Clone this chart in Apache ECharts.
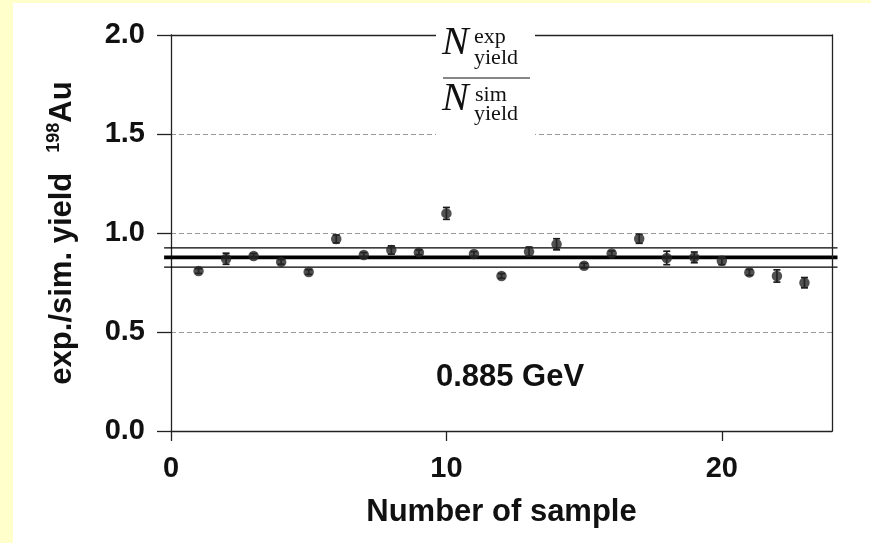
<!DOCTYPE html>
<html><head><meta charset="utf-8">
<script src="https://cdn.jsdelivr.net/npm/echarts@6/dist/echarts.min.js"></script>
<style>
html,body{margin:0;padding:0;background:#FFFFCC;width:871px;height:543px;overflow:hidden}
#c{position:absolute;left:13px;top:3px;width:858px;height:540px;background:#ffffff}
</style></head><body><div id="c"></div>
<script>
// ---- data ----
const samples = [1,2,3,4,5,6,7,8,9,10,11,12,13,14,15,16,17,18,19,20,21,22,23];
const ratio   = [0.808,0.870,0.884,0.854,0.803,0.970,0.889,0.914,0.902,1.099,0.894,0.783,0.906,0.943,0.835,0.897,0.971,0.874,0.877,0.860,0.801,0.783,0.749];
const errors  = [0.012,0.028,0.012,0.012,0.012,0.020,0.012,0.021,0.012,0.030,0.012,0.012,0.023,0.028,0.012,0.012,0.023,0.034,0.027,0.020,0.015,0.031,0.026];
const refLevels = [0.877, 0.925, 0.828];   // mean, upper, lower
const xTickValues = [0, 10, 20];
const energyLabel = '0.885 GeV';
const xTitle = 'Number of sample';

// ---- chart ----
const OX = 13, OY = 3;
const chart = echarts.init(document.getElementById('c'), null, {renderer:'canvas'});
const sans = 'Liberation Sans, Arial, sans-serif';
const serif = 'Liberation Serif, Times New Roman, serif';
const ink = '#111';

const pts = samples.map((s,i)=>[s, ratio[i], errors[i]]);

const option = {
  animation:false,
  grid:{left:171-OX, top:35-OY, right:871-832, bottom:543-431, show:false},
  xAxis:[{
    type:'value', min:0, max:24, interval:10, z:5,
    axisLine:{show:true, onZero:false, lineStyle:{color:'#222', width:1.3}},
    axisTick:{show:true, inside:false, length:10, lineStyle:{color:'#222', width:1.3},
      customValues: xTickValues},
    axisLabel:{show:true, margin:23, fontSize:29, fontWeight:'bold', fontFamily:sans, color:ink,
      customValues: xTickValues},
    splitLine:{show:false},
    name:xTitle, nameLocation:'middle', nameGap:66,
    nameTextStyle:{fontSize:31, fontWeight:'bold', fontFamily:sans, color:ink}
  },{
    type:'value', position:'top', min:0, max:24, z:5,
    axisLine:{show:true, onZero:false, lineStyle:{color:'#222', width:1.3}},
    axisTick:{show:false}, axisLabel:{show:false}, splitLine:{show:false}
  }],
  yAxis:[{
    type:'value', min:0, max:2, interval:0.5, z:1,
    axisLine:{show:true, onZero:false, lineStyle:{color:'#222', width:1.3}},
    axisTick:{show:true, inside:false, length:14, lineStyle:{color:'#222', width:1.3}},
    axisLabel:{margin:26, fontSize:29, fontWeight:'bold', fontFamily:sans, color:ink,
      formatter:v=>v.toFixed(1)},
    splitLine:{show:true, lineStyle:{color:'#9a9a9a', width:1, type:[5,3]}},
    name:'{a|exp./sim. yield}      {s|198}{a|Au}', nameLocation:'middle', nameGap:93, nameRotate:90,
    nameTextStyle:{rich:{
      a:{fontSize:31, fontWeight:'bold', fontFamily:sans, color:ink, verticalAlign:'bottom', lineHeight:33},
      s:{fontSize:18, fontWeight:'bold', fontFamily:sans, color:ink, verticalAlign:'top', lineHeight:33, padding:[0,0,14,0]}
    }}
  },{
    type:'value', position:'right', min:0, max:2, z:5,
    axisLine:{show:true, onZero:false, lineStyle:{color:'#222', width:1.3}},
    axisTick:{show:false}, axisLabel:{show:false}, splitLine:{show:false}
  }],
  series:[
    {
      type:'custom', name:'ref', clip:false, z:3,
      data: refLevels.map(v=>[v]),
      renderItem:(params, api)=>{
        const v = api.value(0);
        const a = api.coord([-0.25, v]);
        const b = api.coord([24.2, v]);
        const w = params.dataIndex === 0 ? 3.6 : 1.3;
        return {type:'line', shape:{x1:a[0], y1:a[1], x2:b[0], y2:b[1]},
          style:{stroke:'#000', lineWidth:w}};
      }
    },
    {
      type:'custom', name:'err', z:4,
      data: pts,
      renderItem:(params, api)=>{
        const x = api.value(0), v = api.value(1), e = api.value(2);
        const t = api.coord([x, v+e]), b = api.coord([x, v-e]);
        const hw = 3.5;
        const st = {stroke:'#1a1a1a', lineWidth:1.7};
        return {type:'group', children:[
          {type:'line', shape:{x1:t[0], y1:t[1], x2:b[0], y2:b[1]}, style:st},
          {type:'line', shape:{x1:t[0]-hw, y1:t[1], x2:t[0]+hw, y2:t[1]}, style:st},
          {type:'line', shape:{x1:b[0]-hw, y1:b[1], x2:b[0]+hw, y2:b[1]}, style:st}
        ]};
      }
    },
    {
      type:'scatter', name:'ratio', z:5,
      data: pts.map(p=>[p[0], p[1]]),
      symbol:'circle', symbolSize:10.5,
      itemStyle:{color:'#262626'}
    }
  ],
  graphic:[
    {type:'rect', z:100, shape:{x:436-OX, y:20-OY, width:99, height:118}, style:{fill:'#ffffff'}},
    {type:'text', z:101, x:442-OX, y:43-OY, style:{text:'N', font:'italic 40px '+serif, fill:ink, verticalAlign:'middle', align:'left'}},
    {type:'text', z:101, x:474-OX, y:37-OY, style:{text:'exp', font:'22px '+serif, fill:ink, verticalAlign:'middle', align:'left'}},
    {type:'text', z:101, x:474-OX, y:58-OY, style:{text:'yield', font:'22px '+serif, fill:ink, verticalAlign:'middle', align:'left'}},
    {type:'line', z:101, shape:{x1:443-OX, y1:78-OY, x2:530-OX, y2:78-OY}, style:{stroke:ink, lineWidth:1.2}},
    {type:'text', z:101, x:442-OX, y:99-OY, style:{text:'N', font:'italic 40px '+serif, fill:ink, verticalAlign:'middle', align:'left'}},
    {type:'text', z:101, x:475-OX, y:95-OY, style:{text:'sim', font:'22px '+serif, fill:ink, verticalAlign:'middle', align:'left'}},
    {type:'text', z:101, x:474-OX, y:114-OY, style:{text:'yield', font:'22px '+serif, fill:ink, verticalAlign:'middle', align:'left'}},
    {type:'text', z:101, x:510-OX, y:377-OY, style:{text:energyLabel, font:'bold 31px '+sans, fill:ink, verticalAlign:'middle', align:'center'}}
  ]
};
chart.setOption(option);
</script></body></html>
